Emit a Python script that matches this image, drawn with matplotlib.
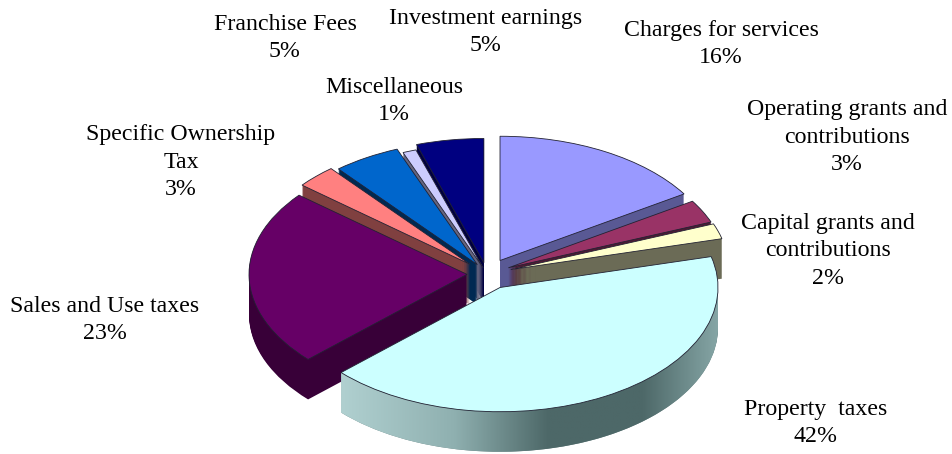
import matplotlib
matplotlib.use('Agg')
import matplotlib.pyplot as plt
import numpy as np
from matplotlib.colors import to_rgb, LinearSegmentedColormap
from matplotlib.patches import Polygon

plt.rcParams['font.family'] = ['Liberation Serif', 'DejaVu Serif']

# going clockwise from 12 o'clock
categories = ['Charges for services', 'Operating grants and\ncontributions', 'Capital grants and\ncontributions',
              'Property  taxes', 'Sales and Use taxes', 'Specific Ownership\nTax', 'Franchise Fees',
              'Miscellaneous', 'Investment earnings']
values = [16, 3, 2, 42, 23, 3, 5, 1, 5]
colors = ['#9999ff', '#993366', '#ffffcc', '#ccffff', '#660066', '#ff8080', '#0066cc', '#ccccff', '#000080']
wall_shade = [0.58, 0.5, 0.42, 0.5, 0.55, 0.5, 0.4, 0.5, 0.5]
explode = [27, 24, 25, 27, 20, 24, 19, 11, 20]
# back slices first, property last since it sits in front
draw_rank = [0, 1, 2, 8, 7, 5, 4, 3, 2]
label_pos = [(721, 44), (847, 137), (828, 251), (816, 423), (105, 320), (181, 162), (285, 38), (394, 101), (486, 32)]

W, H = 953, 454
fig = plt.figure(figsize=(W / 100, H / 100), dpi=100)
ax = fig.add_axes([0, 0, 1, 1])

# pie centre and size in picture pixels, the squash makes it look tilted
cx, cy = 487, 274
rx = 218
squash = 0.57
depth = 40


def shade(c, f):
    return tuple(v * f for v in to_rgb(c))


# stacked copies make the side wall
for d in np.arange(depth, 0, -1.0):
    wedges, _ = ax.pie(values, explode=explode, colors=[shade(c, f) for c, f in zip(colors, wall_shade)], startangle=90,
                       counterclock=False, radius=rx, center=(cx, -(cy + d) / squash), frame=True,
                       wedgeprops={'linewidth': 0.4, 'edgecolor': 'none'})
    for w, r in zip(wedges, draw_rank):
        w.set_zorder(r * 100 + 1)

tops, _ = ax.pie(values, explode=explode, colors=colors, startangle=90, counterclock=False,
                 radius=rx, center=(cx, -cy / squash), frame=True,
                 wedgeprops={'linewidth': 0.6, 'edgecolor': '#222233'})
for w, r in zip(tops, draw_rank):
    w.set_zorder(r * 100 + 50)

ax.set_aspect('auto')

# the big slice has a shaded outer wall
big = tops[3]
t = np.radians(np.linspace(big.theta1, big.theta2, 200))
t = t[np.sin(t) <= 0]
wx = big.center[0] + big.r * np.cos(t)
wy = big.center[1] + big.r * np.sin(t)
wall = Polygon(np.r_[np.c_[wx, wy], np.c_[wx, wy - depth / squash][::-1]], closed=True,
               transform=ax.transData, facecolor='none', edgecolor='none')
ax.add_patch(wall)
grad_cmap = LinearSegmentedColormap.from_list('wall', [(0, '#b0d0d0'), (0.3, '#8fb0b0'), (0.55, '#4d6868'),
                                                       (0.8, '#4d6868'), (1, '#85a5a5')])
im = ax.imshow(np.linspace(0, 1, 256).reshape(1, -1), cmap=grad_cmap, aspect='auto', zorder=big.get_zorder() - 5,
               extent=(wx.min(), wx.max(), (wy - depth / squash).min(), wy.max()))
im.set_clip_path(wall)
ax.set_xlim(0, W)
ax.set_ylim(-H / squash, 0)
ax.axis('off')

for name, v, (x, y) in zip(categories, values, label_pos):
    ax.text(x, -y / squash, '%s\n%d%%' % (name, v), ha='center', va='center', fontsize=17.2, linespacing=1.4,
            color='black', zorder=2000)

fig.savefig('out.png', dpi=100)
